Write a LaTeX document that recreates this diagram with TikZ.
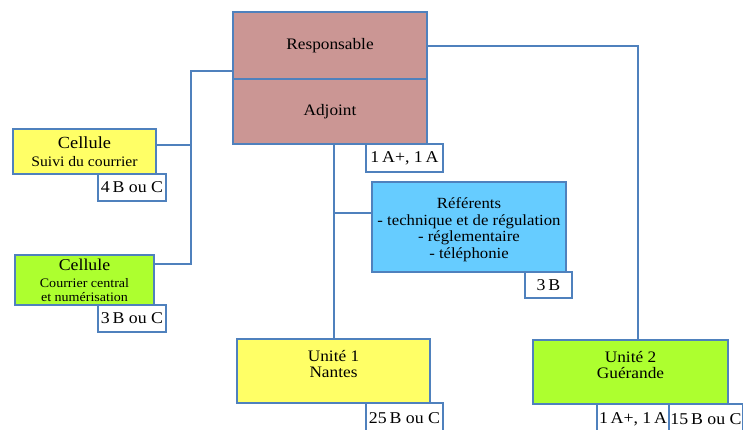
\documentclass[tikz,border=0pt]{standalone}
\usepackage{fontspec}
\setmainfont{Liberation Serif}[FakeStretch=1.08]
\definecolor{edge}{HTML}{4F81BD}
\definecolor{rose}{HTML}{CB9694}
\definecolor{jaune}{HTML}{FFFF66}
\definecolor{vert}{HTML}{ADFF2F}
\definecolor{bleu}{HTML}{66CCFF}
\tikzset{
  x=1pt, y=-1pt,
  box/.style={draw=edge, line width=1.3pt, inner sep=0pt, align=center, text=black},
  tag/.style={draw=edge, line width=1.3pt, fill=white, inner sep=0pt, align=center, font=\fontsize{16.5}{18}\selectfont},
  conn/.style={draw=edge, line width=1.3pt},
}
\begin{document}
\begin{tikzpicture}
\useasboundingbox (0,0) rectangle (743,430);
\clip (0,0) rectangle (743,430);
% main boxes
\node[box, fill=rose, minimum width=194pt, minimum height=67pt, font=\fontsize{16}{18}\selectfont] (resp) at (330,45.5) {Responsable};
\node[box, fill=rose, minimum width=194pt, minimum height=65pt, font=\fontsize{16}{18}\selectfont] (adj) at (330,111.5) {Adjoint};
\node[tag, minimum width=77pt, minimum height=28pt] (tadj) at (404.5,158) {1\,A+, 1\,A};
% left cells
\node[box, fill=jaune, minimum width=143pt, minimum height=45pt, font=\fontsize{14.5}{18}\selectfont] (cel1) at (84.5,151.5) {{\fontsize{17}{18}\selectfont Cellule}\\Suivi du courrier};
\node[tag, minimum width=68pt, minimum height=27pt] (tcel1) at (132,187.5) {4\,B ou C};
\node[box, fill=vert, minimum width=139pt, minimum height=50pt, font=\fontsize{13}{14}\selectfont] (cel2) at (84.5,280) {{\fontsize{16.5}{17}\selectfont Cellule}\\[3pt]Courrier central\\et numérisation};
\node[tag, minimum width=68pt, minimum height=27pt] (tcel2) at (132,318.5) {3\,B ou C};
% referents
\node[box, fill=bleu, minimum width=194pt, minimum height=90pt, font=\fontsize{15.5}{17}\selectfont] (ref) at (469,227) {\raisebox{-3pt}[\height][\depth]{\begin{tabular}{@{}c@{}}Référents\\[-0.3pt]- technique et de régulation\\[-0.3pt]- réglementaire\\[-0.3pt]- téléphonie\end{tabular}}};
\node[tag, minimum width=47pt, minimum height=26pt] (tref) at (548.5,285) {3\,B};
% units
\node[box, fill=jaune, minimum width=193pt, minimum height=64pt, font=\fontsize{16}{18}\selectfont] (u1) at (333.5,371) {\raisebox{22pt}{\begin{tabular}{@{}c@{}}Unité 1\\[-2pt]Nantes\end{tabular}}};
\node[tag, minimum width=77pt, minimum height=30pt] (tu1) at (404.5,418) {25\,B ou C};
\node[box, fill=vert, minimum width=195pt, minimum height=64pt, font=\fontsize{16}{18}\selectfont] (u2) at (630.5,372) {\raisebox{22pt}{\begin{tabular}{@{}c@{}}Unité 2\\[-2pt]Guérande\end{tabular}}};
\node[tag, minimum width=72pt, minimum height=30pt] (tu2a) at (633,419) {1\,A+, 1\,A};
\node[tag, minimum width=74pt, minimum height=30pt] (tu2b) at (706,419) {15\,B ou C};
% junction coordinates
\coordinate (jl) at (191,71);
\coordinate (jc1) at (191,145);
\coordinate (jc2) at (191,264);
\coordinate (jr) at (638,46);
\coordinate (jref) at (334,213);
% connectors
\draw[conn] (jl -| resp.west) -- (jl) -- (jc2) -- (jc2 -| cel2.east);
\draw[conn] (jc1) -- (jc1 -| cel1.east);
\draw[conn] (jr -| resp.east) -- (jr) -- (jr |- u2.north);
\draw[conn] (jref |- adj.south) -- (jref |- u1.north);
\draw[conn] (jref) -- (jref -| ref.west);
\end{tikzpicture}
\end{document}
